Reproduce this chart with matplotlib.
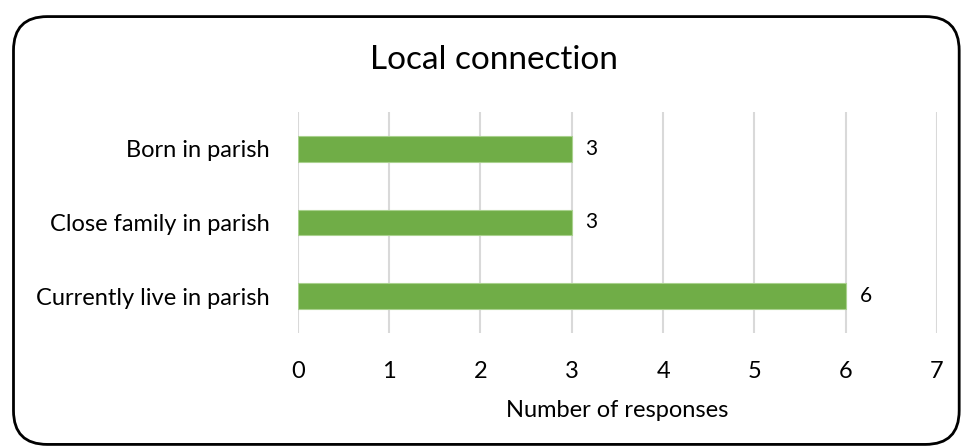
import matplotlib.pyplot as plt
from matplotlib.patches import FancyBboxPatch

categories = ["Currently live in parish", "Close family in parish", "Born in parish"]
responses = [6, 3, 3]
x_ticks = [0, 1, 2, 3, 4, 5, 6, 7]

plt.rcParams['font.family'] = ['Lato', 'DejaVu Sans']

fig = plt.figure(figsize=(9.64, 4.48), dpi=100)
ax = fig.add_axes([0.309, 0.257, 0.663, 0.493])

# rounded chart border
border = FancyBboxPatch((0.014, 0.008), 0.981, 0.955,
                        boxstyle="round,pad=0,rounding_size=0.035",
                        transform=fig.transFigure, facecolor='white',
                        edgecolor='black', linewidth=2, zorder=-1,
                        mutation_aspect=964 / 448)
fig.patches.append(border)

y = range(len(categories))
ax.barh(y, responses, height=0.35, color='#70AD47', edgecolor='#A9D18E', linewidth=0.8, zorder=3)
for yi, v in zip(y, responses):
    ax.text(v + 0.15, yi, str(v), va='center', ha='left', fontsize=15, color='#000000')

ax.set_xlim(0, 7)
ax.set_ylim(-0.5, 2.5)
ax.set_xticks(x_ticks)
ax.set_yticks(list(y))
ax.set_yticklabels(categories)
ax.tick_params(axis='both', length=0, labelsize=17, colors='#000000')
ax.tick_params(axis='x', pad=20)
ax.tick_params(axis='y', pad=20)
ax.grid(axis='x', color='#D9D9D9', linewidth=1.5, zorder=0)
for s in ax.spines.values():
    s.set_visible(False)
ax.set_facecolor('none')

ax.set_xlabel('Number of responses', fontsize=17, labelpad=13)
fig.text(0.512, 0.865, 'Local connection', ha='center', va='center', fontsize=24)

fig.savefig('out.png', dpi=100)
